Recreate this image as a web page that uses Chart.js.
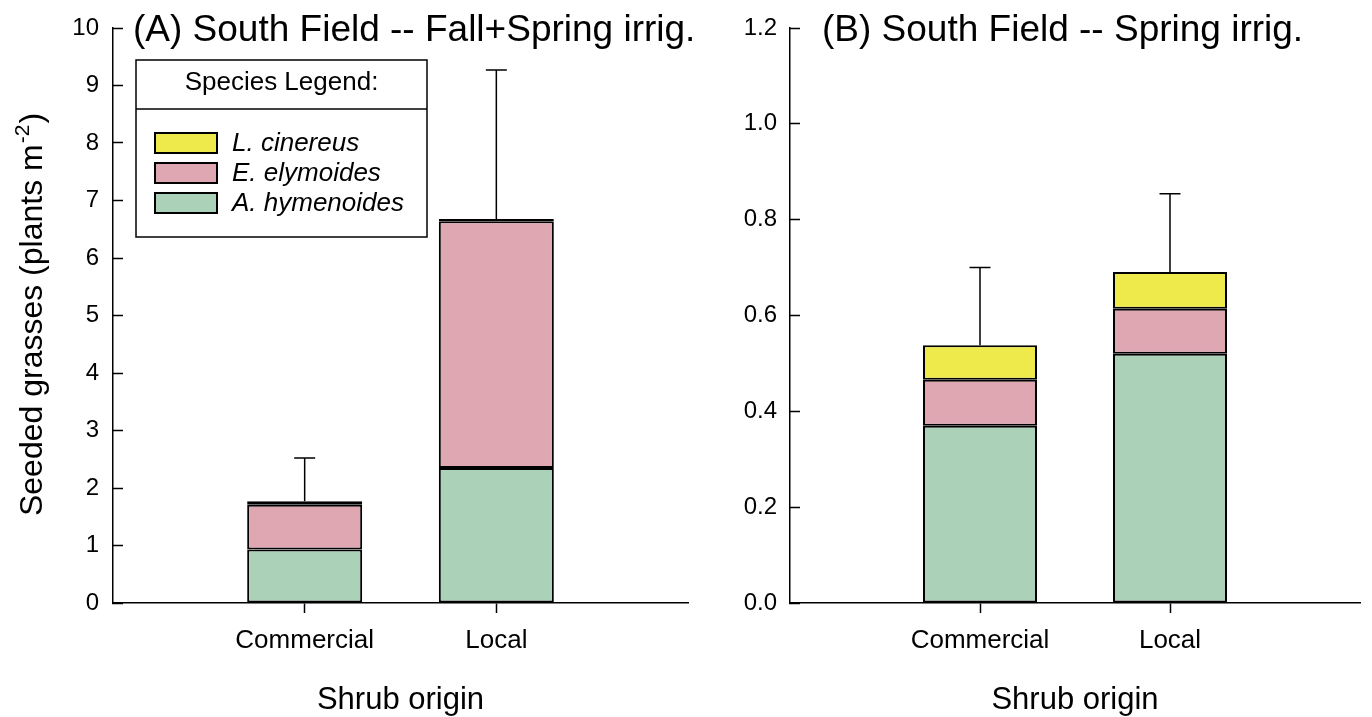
<!DOCTYPE html>
<html>
<head>
<meta charset="utf-8">
<title>South Field seeded grasses</title>
<script src="https://cdn.jsdelivr.net/npm/chart.js@4.4.0/dist/chart.umd.min.js"></script>
<style>
  body { margin: 0; background: #fff; }
  .panel { position: absolute; top: 0; }
</style>
</head>
<body>
<div class="panel" style="left:0"><canvas id="chartA" width="700" height="717"></canvas></div>
<div class="panel" style="left:700px"><canvas id="chartB" width="672" height="717"></canvas></div>
<script>
// categories (empty slots at both ends give the spacing of the original plot)
const categories = ['', 'Commercial', 'Local', ''];
const species = ['A. hymenoides', 'E. elymoides', 'L. cinereus'];
const speciesColors = ['#abd1b8', '#dea7b2', '#efea4b'];

// (A) Fall+Spring irrigation, plants m-2
const hymenoidesA = [null, 0.93, 2.35, null];
const elymoidesA = [null, 0.78, 4.29, null];
const cinereusA = [null, 0.06, 0.04, null];
const errTopA = [null, 2.52, 9.27, null];
const yTicksA = [0, 1, 2, 3, 4, 5, 6, 7, 8, 9, 10];

// (B) Spring irrigation
const hymenoidesB = [null, 0.37, 0.52, null];
const elymoidesB = [null, 0.096, 0.094, null];
const cinereusB = [null, 0.072, 0.077, null];
const errTopB = [null, 0.70, 0.854, null];
const yTicksB = [0, 0.2, 0.4, 0.6, 0.8, 1.0, 1.2];

const FONT = '"Liberation Sans", Arial, sans-serif';
Chart.defaults.font.family = FONT;
Chart.defaults.color = '#000';

// error bar from the top of the stack up to the given value
const errorBars = {
  id: 'errorBars',
  afterDatasetsDraw(chart, args, opts) {
    const { ctx, scales: { x, y } } = chart;
    ctx.save();
    ctx.strokeStyle = '#000';
    ctx.lineWidth = 1.5;
    opts.tops.forEach((top, i) => {
      if (top == null) return;
      let sum = 0;
      chart.data.datasets.forEach(d => { sum += d.data[i] || 0; });
      const px = x.getPixelForValue(i);
      const y0 = y.getPixelForValue(sum);
      const y1 = y.getPixelForValue(top);
      ctx.beginPath();
      ctx.moveTo(px, y0);
      ctx.lineTo(px, y1);
      ctx.moveTo(px - 10.5, y1);
      ctx.lineTo(px + 10.5, y1);
      ctx.stroke();
    });
    ctx.restore();
  }
};

// panel heading inside the top of the plot
const panelTitle = {
  id: 'panelTitle',
  afterDraw(chart, args, opts) {
    const { ctx, chartArea } = chart;
    ctx.save();
    ctx.font = '37px ' + FONT;
    ctx.fillStyle = '#000';
    ctx.textBaseline = 'middle';
    ctx.fillText(opts.text, chartArea.left + opts.dx, chartArea.top + 3);
    ctx.restore();
  }
};

// y title with superscript
const yTitle = {
  id: 'yTitle',
  afterDraw(chart, args, opts) {
    if (!opts.show) return;
    const { ctx, chartArea } = chart;
    const cy = (chartArea.top + chartArea.bottom) / 2;
    const main = 'Seeded grasses (plants m', sup = '-2', end = ')';
    ctx.save();
    ctx.fillStyle = '#000';
    ctx.translate(42, cy);
    ctx.rotate(-Math.PI / 2);
    ctx.font = '32px ' + FONT;
    const w1 = ctx.measureText(main).width;
    const w3 = ctx.measureText(end).width;
    ctx.font = '21px ' + FONT;
    const w2 = ctx.measureText(sup).width;
    const x0 = -(w1 + w2 + w3) / 2;
    ctx.textBaseline = 'alphabetic';
    ctx.font = '32px ' + FONT;
    ctx.fillText(main, x0, 0);
    ctx.font = '21px ' + FONT;
    ctx.fillText(sup, x0 + w1 + 1, -13);
    ctx.font = '32px ' + FONT;
    ctx.fillText(end, x0 + w1 + w2 + 2, 0);
    ctx.restore();
  }
};

// boxed legend with header
const speciesLegend = {
  id: 'speciesLegend',
  afterDraw(chart, args, opts) {
    if (!opts.show) return;
    const { ctx, chartArea } = chart;
    const L = chartArea.left + 23, T = chartArea.top + 32, W = 291, H = 177;
    ctx.save();
    ctx.fillStyle = '#fff';
    ctx.fillRect(L, T, W, H);
    ctx.strokeStyle = '#000';
    ctx.lineWidth = 1.5;
    ctx.strokeRect(L, T, W, H);
    ctx.beginPath();
    ctx.moveTo(L, T + 49);
    ctx.lineTo(L + W, T + 49);
    ctx.stroke();
    ctx.fillStyle = '#000';
    ctx.font = '26px ' + FONT;
    ctx.textAlign = 'center';
    ctx.textBaseline = 'middle';
    ctx.fillText('Species Legend:', L + W / 2, T + 23);
    ctx.textAlign = 'left';
    const items = chart.data.datasets.slice().reverse();
    items.forEach((d, k) => {
      const y = T + 73 + k * 30;
      ctx.fillStyle = d.backgroundColor;
      ctx.fillRect(L + 19, y, 62, 20);
      ctx.lineWidth = 2;
      ctx.strokeRect(L + 19, y, 62, 20);
      ctx.fillStyle = '#000';
      ctx.font = 'italic 26px ' + FONT;
      ctx.fillText(d.label, L + 96, y + 11);
    });
    ctx.restore();
  }
};

function makeChart(id, sets, cfg) {
  const datasets = sets.map((vals, k) => ({
    label: species[k],
    data: vals,
    backgroundColor: speciesColors[k],
    borderColor: '#000',
    borderWidth: 2,
    borderSkipped: false,
    barPercentage: 0.6,
    categoryPercentage: 1
  }));
  return new Chart(document.getElementById(id), {
    type: 'bar',
    data: { labels: categories, datasets: datasets },
    plugins: [errorBars, panelTitle, yTitle, speciesLegend],
    options: {
      responsive: false,
      animation: false,
      layout: { padding: { top: 28, right: cfg.padRight, left: 0, bottom: 0 } },
      plugins: {
        legend: { display: false },
        tooltip: { enabled: false },
        errorBars: { tops: cfg.errTop },
        panelTitle: { text: cfg.title, dx: cfg.titleDx },
        yTitle: { show: cfg.yTitle },
        speciesLegend: { show: cfg.legend }
      },
      scales: {
        x: {
          stacked: true,
          offset: false,
          grid: {
            offset: false,
            drawOnChartArea: false,
            tickLength: 10,
            tickWidth: 1.5,
            tickColor: c => (c.index === 1 || c.index === 2) ? '#000' : 'rgba(0,0,0,0)'
          },
          border: { color: '#000', width: 1.5 },
          ticks: { font: { size: 26 }, color: '#000', padding: 12, maxRotation: 0, autoSkip: false },
          title: { display: true, text: 'Shrub origin', font: { size: 31 }, color: '#000', padding: { top: 0, bottom: -2 } },
          afterFit: s => { s.height = 114; }
        },
        y: {
          stacked: true,
          min: 0,
          max: cfg.yTicks[cfg.yTicks.length - 1],
          afterBuildTicks: s => { s.ticks = cfg.yTicks.map(v => ({ value: v })); },
          grid: { drawOnChartArea: false, tickLength: -10, tickWidth: 1.5, tickColor: '#000' },
          border: { color: '#000', width: 1.5 },
          ticks: { font: { size: 24 }, color: '#000', padding: cfg.tickPad, callback: cfg.fmt },
          afterFit: s => { s.width = cfg.yWidth; s.paddingTop = 0; s.paddingBottom = 0; }
        }
      }
    }
  });
}

makeChart('chartA', [hymenoidesA, elymoidesA, cinereusA], {
  errTop: errTopA, yTicks: yTicksA, fmt: v => String(v),
  title: '(A) South Field -- Fall+Spring irrig.', titleDx: 20,
  yWidth: 113, padRight: 10, tickPad: 24, yTitle: true, legend: true
});

makeChart('chartB', [hymenoidesB, elymoidesB, cinereusB], {
  errTop: errTopB, yTicks: yTicksB, fmt: v => Number(v).toFixed(1),
  title: '(B) South Field -- Spring irrig.', titleDx: 32,
  yWidth: 90, padRight: 4, tickPad: 23, yTitle: false, legend: false
});
</script>
</body>
</html>
